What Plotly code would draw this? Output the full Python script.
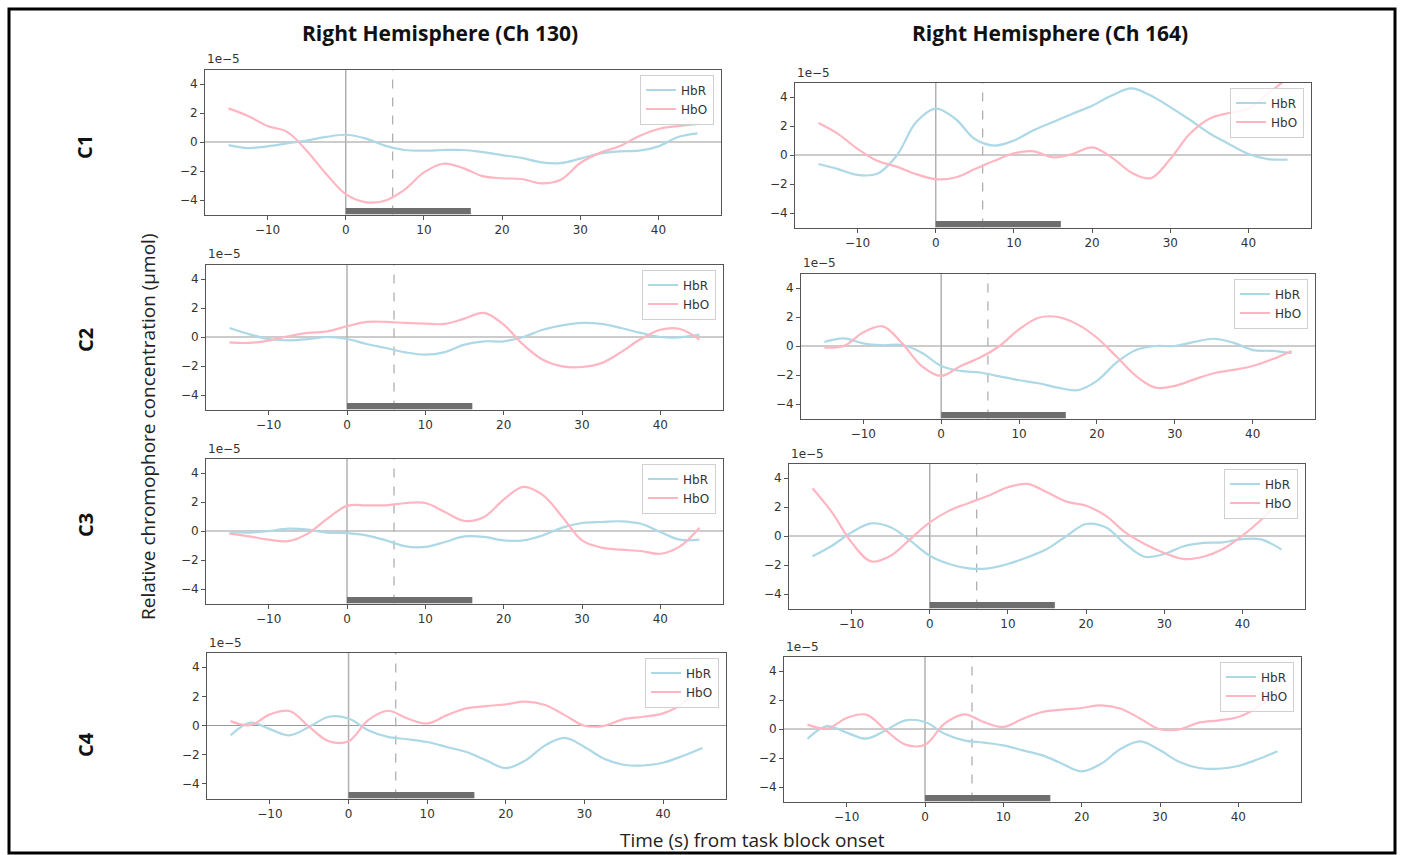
import plotly.graph_objects as go

# ---------------- data (values in units of 1e-5 µmol) ----------------
time_s = [-15, -12.5, -10, -7.5, -5, -2.5, 0, 2.5, 5, 7.5, 10, 12.5, 15,
          17.5, 20, 22.5, 25, 27.5, 30, 32.5, 35, 37.5, 40, 42.5, 45]

ch130_c1_hbr = [-0.22, -0.42, -0.3, -0.1, 0.1, 0.35, 0.5, 0.25, -0.25, -0.55, -0.6, -0.55, -0.55,
                -0.7, -0.9, -1.1, -1.4, -1.45, -1.15, -0.8, -0.65, -0.6, -0.3, 0.35, 0.6]
ch130_c1_hbo = [2.32, 1.8, 1.1, 0.7, -0.6, -2.2, -3.6, -4.15, -4.05, -3.3, -2.1, -1.5, -1.8,
                -2.35, -2.5, -2.55, -2.85, -2.6, -1.45, -0.75, -0.3, 0.4, 0.9, 1.1, 1.25]

ch164_c1_hbr = [-0.62, -0.97, -1.37, -1.3, -0.05, 2.27, 3.2, 2.5, 1.1, 0.65, 1.0, 1.7, 2.27,
                2.85, 3.4, 4.1, 4.6, 4.1, 3.3, 2.43, 1.5, 0.76, 0.07, -0.28, -0.32]
ch164_c1_hbo = [2.2, 1.46, 0.42, -0.4, -0.8, -1.32, -1.67, -1.55, -0.97, -0.4, 0.12, 0.25, -0.16,
                0.07, 0.53, -0.16, -1.2, -1.6, -0.28, 1.46, 2.5, 2.9, 3.2, 4.23, 5.3]

ch130_c2_hbr = [0.62, 0.2, -0.14, -0.23, -0.14, 0.0, -0.14, -0.48, -0.76, -1.06, -1.22, -1.04, -0.53,
                -0.3, -0.3, 0.0, 0.5, 0.8, 0.97, 0.9, 0.62, 0.28, 0.0, -0.02, 0.16]
ch130_c2_hbo = [-0.37, -0.41, -0.25, 0.05, 0.28, 0.39, 0.74, 1.04, 1.04, 0.97, 0.92, 0.9, 1.27,
                1.66, 0.85, -0.53, -1.57, -2.03, -2.07, -1.8, -1.04, -0.14, 0.5, 0.55, -0.18]

ch164_c2_hbr = [0.28, 0.53, 0.18, 0.05, 0.07, -0.46, -1.38, -1.72, -1.83, -2.1, -2.36, -2.57, -2.87,
                -3.05, -2.4, -1.15, -0.28, 0.0, 0.0, 0.28, 0.5, 0.23, -0.28, -0.34, -0.5]
ch164_c2_hbo = [-0.11, 0.0, 0.95, 1.35, 0.18, -1.38, -2.06, -1.38, -0.8, 0.0, 1.15, 1.95, 2.0,
                1.49, 0.57, -0.73, -2.06, -2.87, -2.75, -2.3, -1.88, -1.65, -1.38, -0.92, -0.34]

ch130_c3_hbr = [-0.07, -0.11, 0.0, 0.16, 0.09, -0.11, -0.14, -0.3, -0.65, -1.06, -1.1, -0.76, -0.37,
                -0.41, -0.65, -0.65, -0.3, 0.23, 0.55, 0.62, 0.67, 0.5, -0.07, -0.6, -0.6]
ch130_c3_hbo = [-0.18, -0.37, -0.6, -0.7, -0.18, 0.85, 1.73, 1.77, 1.77, 1.93, 1.93, 1.31, 0.69,
                0.97, 2.17, 3.04, 2.47, 0.97, -0.65, -1.15, -1.29, -1.38, -1.57, -1.06, 0.23]

ch164_c3_hbr = [-1.4, -0.67, 0.25, 0.87, 0.6, -0.32, -1.36, -1.93, -2.23, -2.23, -1.93, -1.47, -0.9,
                0.0, 0.83, 0.6, -0.55, -1.43, -1.24, -0.71, -0.48, -0.44, -0.21, -0.25, -0.94]
ch164_c3_hbo = [3.29, 1.63, -0.44, -1.75, -1.36, -0.21, 0.94, 1.75, 2.28, 2.78, 3.36, 3.59, 3.01,
                2.37, 2.09, 1.4, 0.25, -0.55, -1.17, -1.59, -1.43, -0.9, 0.02, 1.17, 2.6]

ch130_c4_hbr = [-0.67, 0.2, -0.25, -0.67, -0.09, 0.6, 0.48, -0.32, -0.78, -0.94, -1.13, -1.47, -1.82,
                -2.39, -2.92, -2.39, -1.36, -0.85, -1.47, -2.28, -2.69, -2.74, -2.55, -2.09, -1.54]
ch130_c4_hbo = [0.3, 0.02, 0.76, 0.99, -0.09, -1.08, -1.08, 0.37, 1.01, 0.48, 0.14, 0.71, 1.17,
                1.33, 1.45, 1.63, 1.4, 0.71, -0.02, -0.02, 0.44, 0.6, 0.83, 1.52, 2.9]

ch164_c4_hbr = list(ch130_c4_hbr)
ch164_c4_hbo = list(ch130_c4_hbo)

task_block = [0, 16]     # task block (s)
onset_time = 0           # solid marker
delay_time = 6           # dashed marker
x_ticks = [-10, 0, 10, 20, 30, 40]
y_ticks = [-4, -2, 0, 2, 4]
column_titles = ["Right Hemisphere (Ch 130)", "Right Hemisphere (Ch 164)"]
row_labels = ["C1", "C2", "C3", "C4"]

# ---------------- layout geometry (pixels) ----------------
W, H = 1403, 855
panels = [
    (ch130_c1_hbr, ch130_c1_hbo, (205, 721, 69.5, 214.5)),
    (ch164_c1_hbr, ch164_c1_hbo, (795, 1311, 82.5, 227.5)),
    (ch130_c2_hbr, ch130_c2_hbo, (206, 723, 264.5, 409.5)),
    (ch164_c2_hbr, ch164_c2_hbo, (801, 1315, 273.5, 418.5)),
    (ch130_c3_hbr, ch130_c3_hbo, (206, 723, 458.5, 603.5)),
    (ch164_c3_hbr, ch164_c3_hbo, (789, 1305, 463.5, 608.5)),
    (ch130_c4_hbr, ch130_c4_hbo, (207, 726, 652.5, 798.5)),
    (ch164_c4_hbr, ch164_c4_hbo, (784, 1301, 656.5, 801.5)),
]

def px(x):
    return x / W

def py(y):
    return 1 - y / H

HBR_COLOR = "#add8e6"
HBO_COLOR = "#ffb6c1"
TICK_FONT = dict(family="DejaVu Sans", size=12, color="#333333")

fig = go.Figure()
layout = dict(
    width=W, height=H, margin=dict(l=0, r=0, t=0, b=0),
    paper_bgcolor="white", plot_bgcolor="white",
    showlegend=True,
)
shapes = []
annotations = []

minus = lambda v: str(v).replace("-", "\u2212")

for i, (hbr, hbo, (x0, x1, y0, y1)) in enumerate(panels, start=1):
    sfx = "" if i == 1 else str(i)
    xa, ya = "x" + sfx, "y" + sfx
    leg = "legend" + sfx
    fig.add_trace(go.Scatter(x=time_s, y=hbr, mode="lines", name="HbR",
                             line=dict(color=HBR_COLOR, width=2.2, shape="spline", smoothing=1.0),
                             xaxis=xa, yaxis=ya, legend=leg, hoverinfo="skip"))
    fig.add_trace(go.Scatter(x=time_s, y=hbo, mode="lines", name="HbO",
                             line=dict(color=HBO_COLOR, width=2.2, shape="spline", smoothing=1.0),
                             xaxis=xa, yaxis=ya, legend=leg, hoverinfo="skip"))
    layout["xaxis" + sfx] = dict(
        domain=[px(x0), px(x1)], anchor=ya, range=[-18, 48],
        tickvals=x_ticks, ticktext=[minus(v) for v in x_ticks],
        showline=True, mirror=True, linecolor="#555555", linewidth=1,
        ticks="outside", ticklen=4, tickcolor="#555555", tickfont=TICK_FONT,
        showgrid=False, zeroline=False, fixedrange=True,
    )
    layout["yaxis" + sfx] = dict(
        domain=[py(y1), py(y0)], anchor=xa, range=[-5, 5],
        tickvals=y_ticks, ticktext=[minus(v) for v in y_ticks],
        showline=True, mirror=True, linecolor="#555555", linewidth=1,
        ticks="outside", ticklen=4, tickcolor="#555555", tickfont=TICK_FONT,
        showgrid=False, zeroline=False, fixedrange=True,
    )
    layout[leg] = dict(
        x=px(x1 - 7), y=py(y0 + 5), xanchor="right", yanchor="top",
        bgcolor="rgba(255,255,255,0.85)", bordercolor="#d0d0d0", borderwidth=1,
        font=dict(family="DejaVu Sans", size=12, color="#333333"),
        itemwidth=30, tracegroupgap=0,
    )
    # reference lines
    shapes.append(dict(type="line", xref=xa + " domain", yref=ya, x0=0, x1=1, y0=0, y1=0,
                       line=dict(color="#9a9a9a", width=1.2), layer="below"))
    shapes.append(dict(type="line", xref=xa, yref=ya + " domain", x0=onset_time, x1=onset_time,
                       y0=0, y1=1, line=dict(color="#b0b0b0", width=1.5), layer="below"))
    shapes.append(dict(type="line", xref=xa, yref=ya + " domain", x0=delay_time, x1=delay_time,
                       y0=0, y1=1, line=dict(color="#b0b0b0", width=1.3, dash="dash"), layer="below"))
    shapes.append(dict(type="rect", xref=xa, yref=ya, x0=task_block[0], x1=task_block[1],
                       y0=-5, y1=-4.55, fillcolor="#6e6e6e", line=dict(width=0), layer="above"))
    # offset text
    annotations.append(dict(text="1e\u22125", xref="paper", yref="paper", x=px(x0), y=py(y0 - 1),
                            xanchor="left", yanchor="bottom", showarrow=False,
                            font=dict(family="DejaVu Sans", size=12, color="#333333")))

HEAD_FONT = dict(family="Open Sans", size=21, color="#111111")
annotations.append(dict(text="<b>%s</b>" % column_titles[0], xref="paper", yref="paper",
                        x=px(440), y=py(33), xanchor="center", yanchor="middle", showarrow=False,
                        font=HEAD_FONT))
annotations.append(dict(text="<b>%s</b>" % column_titles[1], xref="paper", yref="paper",
                        x=px(1050), y=py(33), xanchor="center", yanchor="middle", showarrow=False,
                        font=HEAD_FONT))
for lab, yc in zip(row_labels, [147, 340, 525, 745]):
    annotations.append(dict(text="<b>%s</b>" % lab, xref="paper", yref="paper",
                            x=px(85), y=py(yc), xanchor="center", yanchor="middle", showarrow=False,
                            textangle=-90, font=dict(family="Open Sans", size=20, color="#111111")))
annotations.append(dict(text="Relative chromophore concentration (\u00b5mol)", xref="paper", yref="paper",
                        x=px(148), y=py(427), xanchor="center", yanchor="middle", showarrow=False,
                        textangle=-90, font=dict(family="Open Sans", size=19, color="#222222")))
annotations.append(dict(text="Time (s) from task block onset", xref="paper", yref="paper",
                        x=px(752), y=py(840), xanchor="center", yanchor="middle", showarrow=False,
                        font=dict(family="Open Sans", size=19, color="#222222")))

# outer frame
shapes.append(dict(type="rect", xref="paper", yref="paper", x0=px(9), x1=px(1395), y0=py(853), y1=py(9),
                   line=dict(color="black", width=3), fillcolor="rgba(0,0,0,0)", layer="above"))

layout["shapes"] = shapes
layout["annotations"] = annotations
fig.update_layout(**layout)
fig.write_html("out.html", config={"displayModeBar": False})
